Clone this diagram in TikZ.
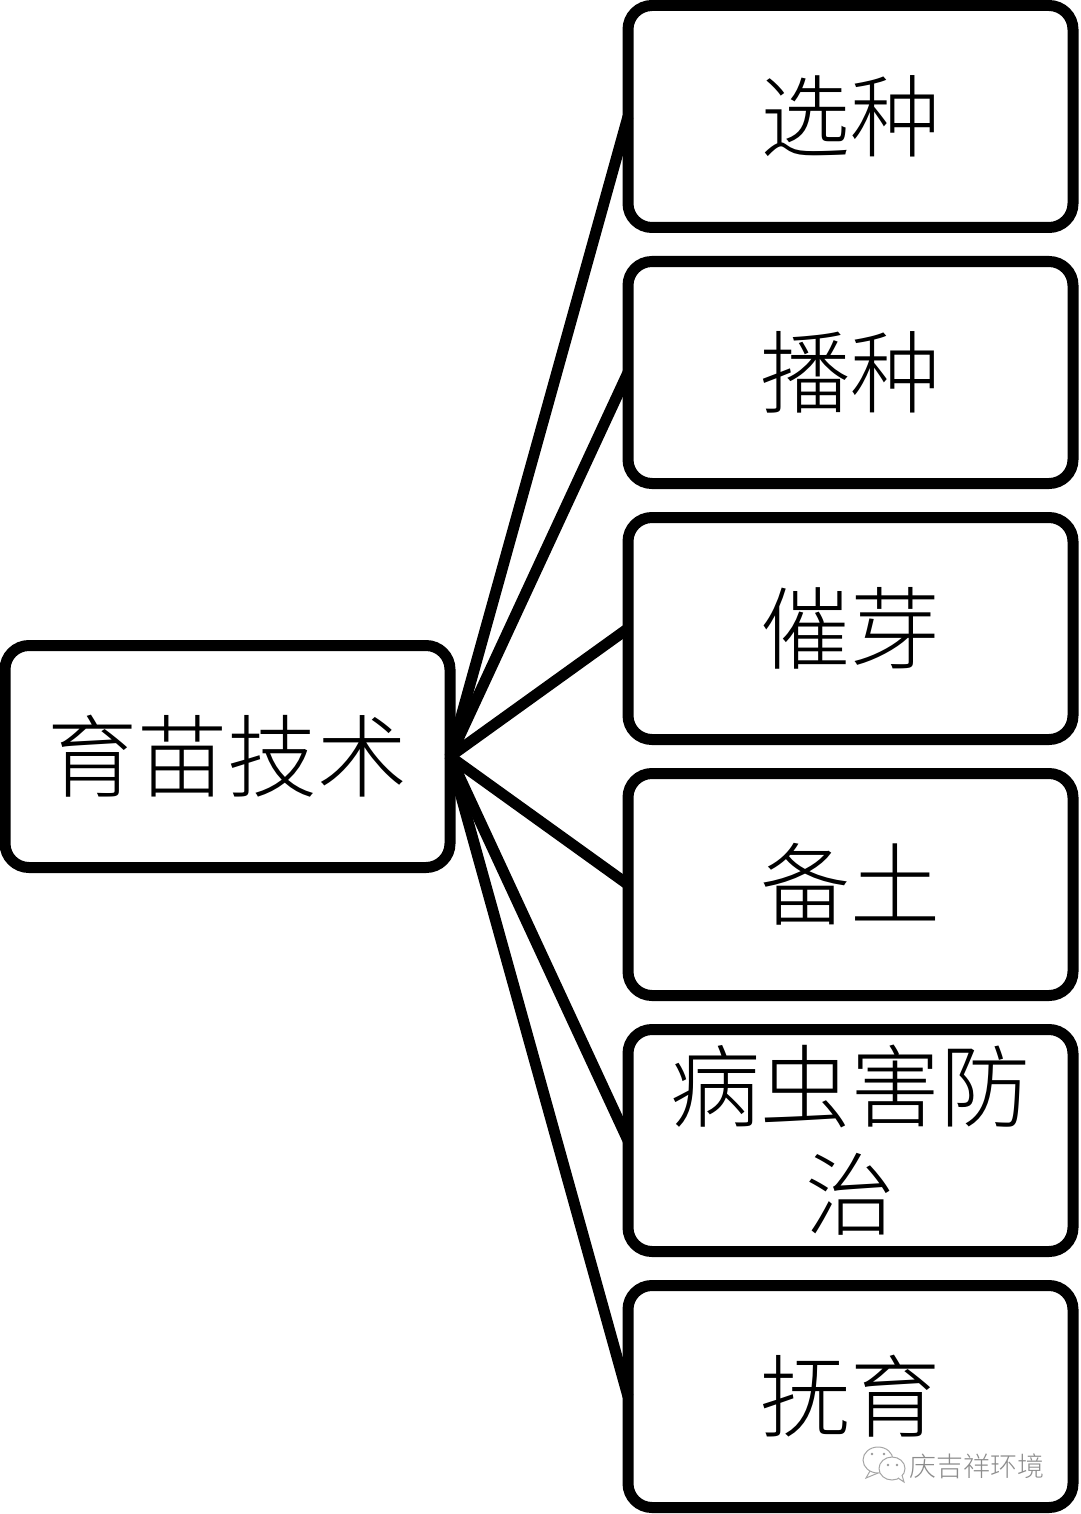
\documentclass[tikz,border=0pt]{standalone}
\usepackage{fontspec}
\newfontfamily\cjk[UprightFont={* Light}]{Noto Sans CJK SC}
\tikzset{
  stepbox/.style={draw, line width=11pt, rounded corners=24pt, outer sep=0pt, inner sep=0pt,
    minimum width=445pt, minimum height=222pt, align=center,
    font=\cjk\fontsize{90}{108}\selectfont},
  link/.style={line width=11pt},
  bubble/.style={draw=black!35, fill=white, line width=1pt},
  eye/.style={fill=black!40, draw=none},
}
\begin{document}
\begin{tikzpicture}[x=1pt,y=-1pt]

  \def\cx{850.5}  % centre of right column

  \useasboundingbox (0,0) rectangle (1080,1514);

  % root
  \node[stepbox] (root) at (227.5,756.5) {育苗技术};

  % steps
  \foreach \name/\cy/\label in {%
    xuan/116.5/选种,
    bo/372.5/播种,
    cui/628.5/催芽,
    bei/884.5/备土,
    bing/1140.5/{病虫害防\\治},
    fu/1396.5/抚育}{
    \node[stepbox] (\name) at (\cx,\cy) {\label};
    \draw[link] (root.east) -- (\name.west);
  }

  % watermark
  \draw[bubble] (870,1471) -- (866,1478) -- (878,1473);
  \draw[bubble] (878,1460) ellipse (15pt and 13pt);
  \draw[bubble] (892,1468.5) ellipse (13pt and 11.5pt);
  \draw[bubble] (898,1478) -- (904,1482) -- (902,1475);
  \foreach \ex/\ey in {872/1454, 884/1454, 888/1465, 897/1465}
    \fill[eye] (\ex,\ey) circle (1.3pt);
  \node[text=black!45, inner sep=0pt, font=\cjk\fontsize{27}{27}\selectfont] (mark) at (977,1466) {庆吉祥环境};

\end{tikzpicture}
\end{document}
